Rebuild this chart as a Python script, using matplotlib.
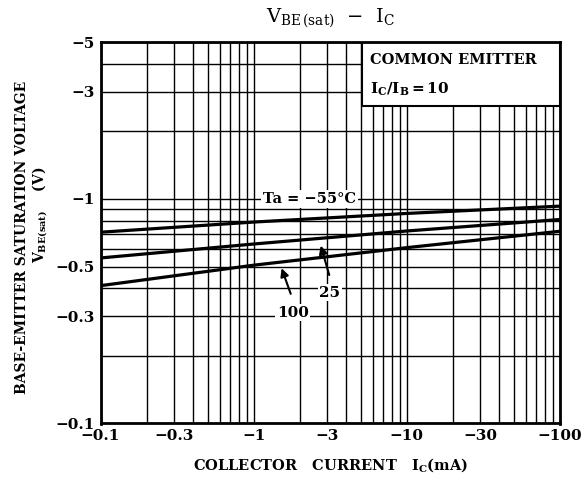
import matplotlib
matplotlib.use("Agg")
import matplotlib.pyplot as plt
from matplotlib.patches import Rectangle
from matplotlib.ticker import FixedLocator, NullLocator

plt.rcParams['font.family'] = ['DejaVu Serif']
plt.rcParams['mathtext.fontset'] = 'dejavuserif'

# Data (magnitudes; axes labelled negative)
ic = [0.1, 1, 10, 100]
vbe_m55 = [0.711, 0.789, 0.862, 0.929]
vbe_25 = [0.546, 0.630, 0.720, 0.810]
vbe_100 = [0.411, 0.507, 0.607, 0.718]

xticks = [0.1, 0.3, 1, 3, 10, 30, 100]
xticklabels = ["−0.1", "−0.3", "−1", "−3", "−10", "−30", "−100"]
yticks = [0.1, 0.3, 0.5, 1, 3, 5]
yticklabels = ["−0.1", "−0.3", "−0.5", "−1", "−3", "−5"]

fig = plt.figure(figsize=(5.86, 4.86), dpi=100)
L, R, T, B = 100.5, 560, 42, 423.5
ax = fig.add_axes([L/586, 1-B/486, (R-L)/586, (B-T)/486])
ax.set_xscale('log')
ax.set_yscale('log')
ax.set_xlim(0.1, 100)
ax.set_ylim(0.1, 5)

# grid values
xgrid = [m * 10**e for e in (-1, 0, 1) for m in range(1, 10)] + [100]
ygrid = [m * 10**e for e in (-1, 0) for m in range(1, 10)]
ygrid = [v for v in ygrid if v <= 5.0001]
for v in xgrid:
    ax.axvline(v, color='black', lw=1.0, zorder=1)
for v in ygrid:
    ax.axhline(v, color='black', lw=1.0, zorder=1)

ax.xaxis.set_major_locator(FixedLocator(xticks))
ax.xaxis.set_minor_locator(NullLocator())
ax.yaxis.set_major_locator(FixedLocator(yticks))
ax.yaxis.set_minor_locator(NullLocator())
ax.set_xticklabels(xticklabels)
ax.set_yticklabels(yticklabels)
ax.tick_params(length=0, labelsize=11, pad=4)
for lab in ax.get_xticklabels() + ax.get_yticklabels():
    lab.set_fontweight('bold')

for s in ax.spines.values():
    s.set_linewidth(2)
    s.set_zorder(5)

for y in (vbe_m55, vbe_25, vbe_100):
    ax.plot(ic, y, color='black', lw=2.3, zorder=3)

# box
ax.add_patch(Rectangle((0.569, 0.832), 0.431, 0.168, transform=ax.transAxes,
                       facecolor='white', edgecolor='black', lw=1.5, zorder=4))
ax.text(0.587, 0.952, "COMMON EMITTER", transform=ax.transAxes, fontsize=10.5,
        fontweight='bold', va='center', zorder=6)
ax.text(0.587, 0.875, r"$\mathbf{I_C/I_B}$$\mathbf{=10}$", transform=ax.transAxes,
        fontsize=11, va='center', zorder=6)

# curve labels
ax.text(1.15, 1.0, "Ta = −55°C", fontsize=10.5, fontweight='bold', va='center',
        ha='left', zorder=6, bbox=dict(facecolor='white', edgecolor='none', pad=1.5))
ax.text(3.15, 0.383, "25", fontsize=11, fontweight='bold', va='center', ha='center', zorder=6,
        bbox=dict(facecolor='white', edgecolor='none', pad=1))
ax.annotate("", xy=(2.71, 0.637), xytext=(3.15, 0.446),
            arrowprops=dict(arrowstyle='-|>', color='black', lw=1.5, mutation_scale=12), zorder=6)
ax.text(1.80, 0.311, "100", fontsize=11, fontweight='bold', va='center', ha='center', zorder=6,
        bbox=dict(facecolor='white', edgecolor='none', pad=1))
ax.annotate("", xy=(1.50, 0.505), xytext=(1.77, 0.368),
            arrowprops=dict(arrowstyle='-|>', color='black', lw=1.5, mutation_scale=12), zorder=6)

fig.text(330/586, 1-18/486, r"$\mathrm{V_{BE\,(sat)}}$  −  $\mathrm{I_C}$",
         ha='center', va='center', fontsize=14)
fig.text(330/586, 1-465/486, r"COLLECTOR   CURRENT   $\mathbf{I_C}$(mA)",
         ha='center', va='center', fontsize=10.5, fontweight='bold')
fig.text(22/586, 1-237/486, "BASE-EMITTER SATURATION VOLTAGE",
         rotation=90, ha='center', va='center', fontsize=10, fontweight='bold')
fig.text(40/586, 1-215/486, r"$\mathbf{V_{BE(sat)}}$    (V)",
         rotation=90, ha='center', va='center', fontsize=10, fontweight='bold')

fig.savefig("out.png", dpi=100)
